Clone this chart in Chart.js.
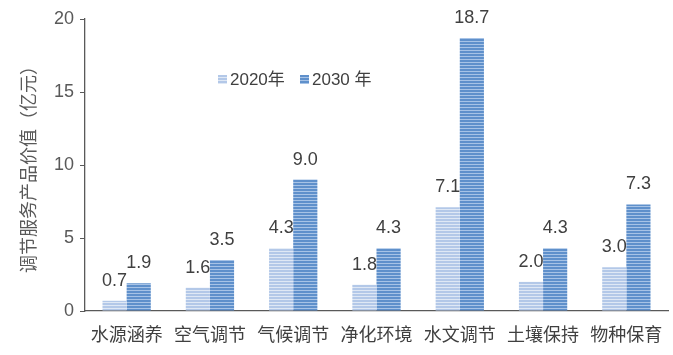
<!DOCTYPE html>
<html><head><meta charset="utf-8">
<script src="https://cdn.jsdelivr.net/npm/chart.js@4/dist/chart.umd.min.js"></script>
<style>html,body{margin:0;padding:0;background:#fff}</style>
</head><body>
<canvas id="c" width="673" height="355"></canvas>
<script>
const categories = ['水源涵养','空气调节','气候调节','净化环境','水文调节','土壤保持','物种保育'];
const values2020 = [0.7, 1.6, 4.3, 1.8, 7.1, 2.0, 3.0];
const values2030 = [1.9, 3.5, 9.0, 4.3, 18.7, 4.3, 7.3];
const seriesNames = ['2020年', '2030 年'];
const yTicks = [0, 5, 10, 15, 20];

const FONT = "'Liberation Sans', 'Noto Sans CJK SC', sans-serif";

function stripe(base, line) {
  const p = document.createElement('canvas');
  p.width = 4; p.height = 3;
  const g = p.getContext('2d');
  g.fillStyle = base; g.fillRect(0, 0, 4, 3);
  g.fillStyle = line; g.fillRect(0, 2, 4, 1);
  return g.createPattern(p, 'repeat');
}
const ctx0 = document.getElementById('c').getContext('2d');
const fill2020 = stripe('#b3c8e8', '#dfe8f5');
const fill2030 = stripe('#5f90cb', '#a7c3e6');

const labelPlugin = {
  id: 'labels',
  afterDatasetsDraw(chart) {
    const ctx = chart.ctx;
    ctx.save();
    ctx.font = '18px ' + FONT;
    ctx.fillStyle = '#404040';
    ctx.textAlign = 'center';
    ctx.textBaseline = 'middle';
    chart.data.datasets.forEach((ds, i) => {
      chart.getDatasetMeta(i).data.forEach((bar, j) => {
        ctx.fillText(ds.data[j].toFixed(1), bar.x, bar.y - 20);
      });
    });
    // legend
    const items = [[218, fill2020, seriesNames[0]], [300, fill2030, seriesNames[1]]];
    ctx.textAlign = 'left';
    ctx.textBaseline = 'middle';
    ctx.font = '17px ' + FONT;
    items.forEach(([x, f, t]) => {
      ctx.fillStyle = f;
      ctx.fillRect(x, 75, 9, 9);
      ctx.fillStyle = '#404040';
      ctx.fillText(t, x + 12, 80);
    });
    ctx.restore();
  }
};

new Chart(ctx0, {
  type: 'bar',
  data: {
    labels: categories,
    datasets: [
      { label: seriesNames[0], data: values2020, backgroundColor: fill2020, borderWidth: 0 },
      { label: seriesNames[1], data: values2030, backgroundColor: fill2030, borderWidth: 0 }
    ]
  },
  options: {
    responsive: false,
    animation: false,
    layout: { padding: { top: 19, right: 5, left: 0, bottom: 0 } },
    datasets: { bar: { categoryPercentage: 0.58, barPercentage: 1.0 } },
    plugins: { legend: { display: false }, tooltip: { enabled: false } },
    scales: {
      x: {
        grid: { display: false, drawTicks: false },
        border: { display: true, color: '#595959', width: 1.3 },
        ticks: { color: '#404040', font: { size: 18, family: FONT }, padding: 14, maxRotation: 0, autoSkip: false },
        afterFit(s) { s.height = 44; s.paddingLeft = 0; s.paddingRight = 0; }
      },
      y: {
        min: 0, max: 20,
        afterBuildTicks(s) { s.ticks = yTicks.map(v => ({ value: v })); },
        grid: { drawOnChartArea: false, drawTicks: true, tickLength: 5, color: '#595959' },
        border: { display: true, color: '#595959', width: 1.3 },
        ticks: { color: '#595959', font: { size: 18, family: FONT }, padding: 6 },
        title: { display: true, text: '调节服务产品价值（亿元）', color: '#595959', font: { size: 18, family: "'Noto Sans CJK SC', sans-serif" }, padding: { top: 17, bottom: 0 } },
        afterFit(s) { s.width = 85; s.paddingTop = 0; s.paddingBottom = 0; }
      }
    }
  },
  plugins: [labelPlugin]
});
</script>
</body></html>
